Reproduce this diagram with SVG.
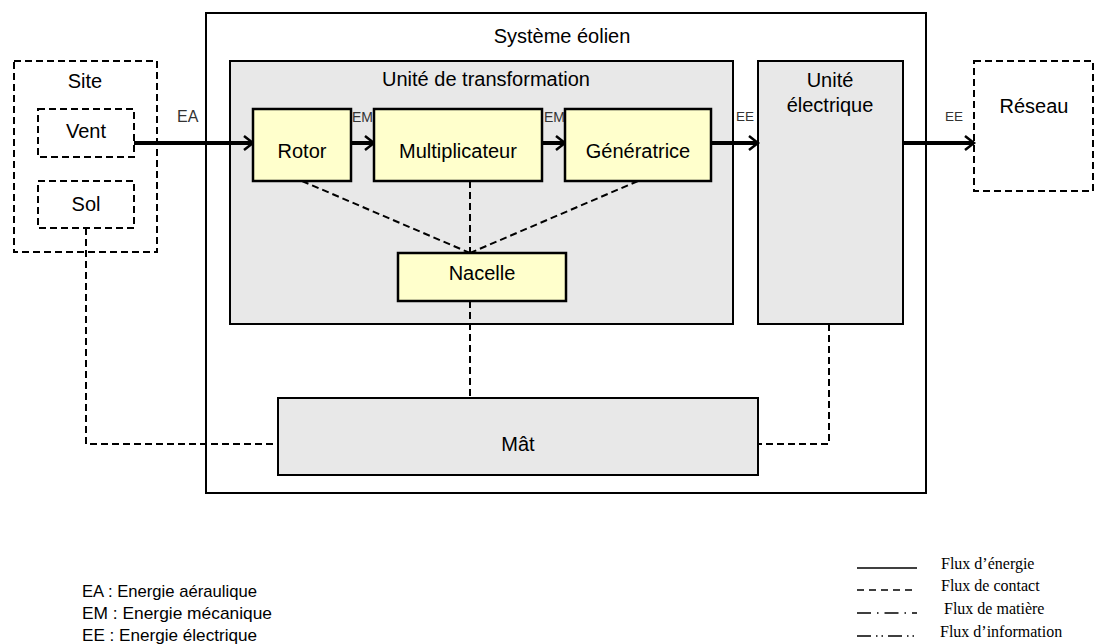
<svg xmlns="http://www.w3.org/2000/svg" width="1096" height="644" viewBox="0 0 1096 644">
<defs>
<marker id="chev" markerUnits="userSpaceOnUse" markerWidth="14" markerHeight="18" refX="11" refY="9" orient="auto">
<path d="M2,2 L11,9 L2,16" fill="none" stroke="#000" stroke-width="2.5"/>
</marker>
<style>
.lbl{font-family:"Liberation Sans",Arial,sans-serif;font-size:20px;fill:#000;text-anchor:middle}
.flow{font-family:"Liberation Sans Narrow","Liberation Sans",Arial,sans-serif;fill:#333}
.grey{fill:#e8e8e8;stroke:#000;stroke-width:2}
.yel{fill:#ffffcc;stroke:#000;stroke-width:2.5}
.ext{fill:#fff;stroke:#000;stroke-width:2;stroke-dasharray:7 4}
.dash{fill:none;stroke:#000;stroke-width:2;stroke-dasharray:7 4}
.en{fill:none;stroke:#000;stroke-width:4;marker-end:url(#chev)}
.leg{font-family:"Liberation Serif","Times New Roman",serif;font-size:16px;fill:#000}
.legl{font-family:"Liberation Sans",Arial,sans-serif;font-size:17px;fill:#000}
</style>
</defs>
<rect width="1096" height="644" fill="#fff"/>

<g id="systeme">
<rect x="206" y="13" width="720" height="480" fill="#fff" stroke="#000" stroke-width="2"/>
<text class="lbl" x="562" y="43">Système éolien</text>
</g>

<g id="site">
<rect class="ext" x="14" y="61" width="143" height="191"/>
<text class="lbl" x="85" y="88">Site</text>
</g>
<g id="vent">
<rect class="ext" x="38" y="109" width="96" height="48"/>
<text class="lbl" x="86" y="138">Vent</text>
</g>
<g id="sol">
<rect class="ext" x="38" y="181" width="96" height="47"/>
<text class="lbl" x="86" y="211">Sol</text>
</g>

<g id="transformation">
<rect class="grey" x="230" y="61" width="503" height="263"/>
<text class="lbl" x="486" y="86">Unité de transformation</text>
</g>

<g id="electrique">
<rect class="grey" x="758" y="61" width="145" height="263"/>
<text class="lbl" x="830" y="87">Unité</text>
<text class="lbl" x="830" y="112">électrique</text>
</g>

<g id="reseau">
<rect class="ext" x="974" y="61" width="119" height="130"/>
<text class="lbl" x="1034" y="113">Réseau</text>
</g>

<g id="connectors">
<path class="en" d="M134,143 H253"/>
<path class="en" d="M351,143 H374"/>
<path class="en" d="M542,143 H565"/>
<path class="en" d="M711,143 H758"/>
<path class="en" d="M903,143 H974"/>
<path class="dash" d="M302,181 L470,253"/>
<path class="dash" d="M638,181 L470,253"/>
<path class="dash" d="M470,181 V253"/>
<path class="dash" d="M470,301 V398"/>
<path class="dash" d="M86,228 V444 H278"/>
<path class="dash" d="M829,324 V444 H758"/>
</g>

<g id="rotor">
<rect class="yel" x="253" y="109" width="98" height="72"/>
<text class="lbl" x="302" y="158">Rotor</text>
</g>
<g id="multiplicateur">
<rect class="yel" x="374" y="109" width="168" height="72"/>
<text class="lbl" x="458" y="158">Multiplicateur</text>
</g>
<g id="generatrice">
<rect class="yel" x="565" y="109" width="146" height="72"/>
<text class="lbl" x="638" y="158">Génératrice</text>
</g>
<g id="nacelle">
<rect class="yel" x="398" y="253" width="168" height="48"/>
<text class="lbl" x="482" y="280">Nacelle</text>
</g>

<g id="mat">
<rect class="grey" x="278" y="398" width="480" height="77"/>
<text class="lbl" x="518" y="451">Mât</text>
</g>

<g id="flow-labels">
<text class="flow" x="177" y="122" font-size="16">EA</text>
<text class="flow" x="352" y="122" font-size="14">EM</text>
<text class="flow" x="544" y="122" font-size="14">EM</text>
<text class="flow" x="736" y="121" font-size="13.5">EE</text>
<text class="flow" x="945" y="121" font-size="13.5">EE</text>
</g>

<g id="legend">
<text class="legl" x="82" y="597" textLength="175" lengthAdjust="spacingAndGlyphs">EA : Energie aéraulique</text>
<text class="legl" x="82" y="619" textLength="190" lengthAdjust="spacingAndGlyphs">EM : Energie mécanique</text>
<text class="legl" x="82" y="641" textLength="175" lengthAdjust="spacingAndGlyphs">EE : Energie électrique</text>
<line x1="857" y1="568" x2="917" y2="568" stroke="#000" stroke-width="1.5"/>
<line x1="857" y1="590" x2="917" y2="590" stroke="#000" stroke-width="1.5" stroke-dasharray="7 5"/>
<line x1="857" y1="613" x2="917" y2="613" stroke="#000" stroke-width="1.5" stroke-dasharray="14 6 1.5 6"/>
<line x1="857" y1="636" x2="917" y2="636" stroke="#000" stroke-width="1.5" stroke-dasharray="14 5 1.5 4 1.5 5"/>
<text class="leg" x="941" y="569">Flux d’énergie</text>
<text class="leg" x="941" y="591">Flux de contact</text>
<text class="leg" x="944" y="614">Flux de matière</text>
<text class="leg" x="940" y="637">Flux d’information</text>
</g>
</svg>
